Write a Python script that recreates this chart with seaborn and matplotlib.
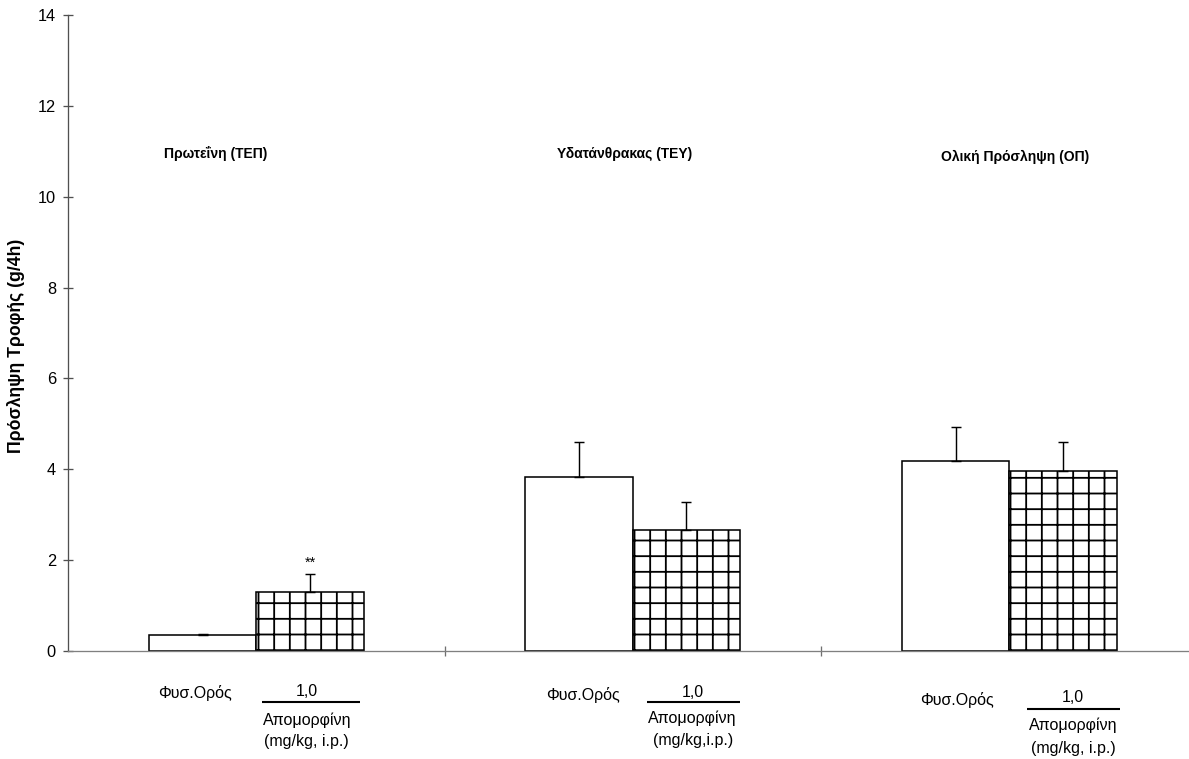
import numpy as np
import pandas as pd
import matplotlib
matplotlib.use("Agg")
import matplotlib.pyplot as plt
import seaborn as sns

# --- data -------------------------------------------------------------
groups = ["Πρωτεΐνη (ΤΕΠ)", "Υδατάνθρακας (ΤΕΥ)", "Ολική Πρόσληψη (ΟΠ)"]
treatments = ["Φυσ.Ορός", "Απομορφίνη 1,0"]
saline_mean = [0.35, 3.83, 4.18]
saline_sem = [0.03, 0.78, 0.75]
apo_mean = [1.30, 2.67, 3.97]
apo_sem = [0.40, 0.61, 0.64]
yticks = [0, 2, 4, 6, 8, 10, 12, 14]
ylabel = "Πρόσληψη Τροφής (g/4h)"
dose_label = "1,0"
drug_label = "Απομορφίνη"
route_labels = ["(mg/kg, i.p.)", "(mg/kg,i.p.)", "(mg/kg, i.p.)"]

df = pd.DataFrame({
    "group": groups * 2,
    "treatment": [treatments[0]] * 3 + [treatments[1]] * 3,
    "value": saline_mean + apo_mean,
})

# --- style ------------------------------------------------------------
sns.set_style("white")
plt.rcParams["font.family"] = ["Liberation Sans", "DejaVu Sans"]
plt.rcParams["hatch.linewidth"] = 1.4
plt.rcParams["hatch.color"] = "black"
plt.rcParams["text.color"] = "black"
plt.rcParams["axes.labelcolor"] = "black"
plt.rcParams["ytick.labelcolor"] = "black"

DPI = 94
fig = plt.figure(figsize=(1189 / DPI, 759 / DPI), dpi=DPI)
ax = fig.add_axes([0.0572, 0.1423, 0.950, 0.838])

sns.barplot(data=df, x="group", y="value", hue="treatment",
            hue_order=treatments, order=groups, palette=["white", "white"],
            width=0.57, edgecolor="black", linewidth=1.2, errorbar=None,
            legend=False, ax=ax)

bar_sets = [list(c) for c in ax.containers]
for bar in bar_sets[1]:
    bar.set_hatch("+")
    bar.set_edgecolor("black")

# upward-only error bars from the bar centres
means = [saline_mean, apo_mean]
sems = [saline_sem, apo_sem]
for k, bars in enumerate(bar_sets):
    xs = [b.get_x() + b.get_width() / 2 for b in bars]
    m = np.array(means[k])
    e = np.array(sems[k])
    ax.errorbar(xs, m, yerr=[np.zeros_like(e), e], fmt="none",
                ecolor="black", elinewidth=1.1, capsize=3.8, capthick=1.1,
                zorder=5)

# significance marker above the apomorphine protein bar
b0 = bar_sets[1][0]
ax.text(b0.get_x() + b0.get_width() / 2, apo_mean[0] + apo_sem[0] + 0.24, "**",
        ha="center", va="center", fontsize=11, color="black")

# axes
ax.set_xlim(-0.5, 2.5)
ax.set_ylim(0, 14)
ax.set_yticks(yticks)
ax.set_yticklabels([str(t) for t in yticks], fontsize=12.5, color="black")
ax.set_xticks([0.5, 1.5])
ax.set_xticklabels([])
ax.set_xlabel("")
ax.set_ylabel(ylabel, fontsize=13.5, fontweight="bold", color="black")
ax.yaxis.set_label_coords(-0.038, 0.48)
ax.tick_params(axis="y", direction="inout", length=7.7, width=1.0,
               color="#505050", pad=5.4, left=True)
ax.tick_params(axis="x", direction="inout", length=7.7, width=1.0,
               color="#707070", bottom=True)
for s in ["top", "right"]:
    ax.spines[s].set_visible(False)
ax.spines["left"].set_color("#505050")
ax.spines["bottom"].set_color("#808080")
ax.spines["left"].set_linewidth(1.0)
ax.spines["bottom"].set_linewidth(1.0)

# group titles
title_pos = [(-0.108, 10.94), (-0.021, 10.94), (0.016, 10.87)]
for i, (dx, yy) in enumerate(title_pos):
    ax.text(i + dx, yy, groups[i], ha="center", va="center",
            fontsize=10.6, fontweight="bold", color="black")

# treatment labels under each group
label_layout = [
    # saline x, saline y, dose x, dose y, line x0, line x1, line y, drug y, route y
    (-0.163, -0.92, 0.134, -0.90, 0.015, 0.275, -1.12, -1.52, -2.00),
    (-0.133, -0.97, 0.159, -0.92, 0.037, 0.284, -1.12, -1.47, -1.96),
    (-0.138, -1.08, 0.170, -1.03, 0.048, 0.295, -1.28, -1.63, -2.14),
]
for i, (sx, sy, dx, dy, lx0, lx1, ly, ry, my) in enumerate(label_layout):
    ax.text(i + sx, sy, treatments[0], ha="center", va="center",
            fontsize=12.3, color="black", clip_on=False)
    ax.text(i + dx, dy, dose_label, ha="center", va="center",
            fontsize=12.3, color="black", clip_on=False)
    ax.plot([i + lx0, i + lx1], [ly, ly], color="black", lw=1.6,
            clip_on=False, solid_capstyle="butt")
    ax.text(i + dx, ry, drug_label, ha="center", va="center",
            fontsize=12.3, color="black", clip_on=False)
    ax.text(i + dx, my, route_labels[i], ha="center", va="center",
            fontsize=12.3, color="black", clip_on=False)

fig.savefig("out.png", dpi=DPI)
